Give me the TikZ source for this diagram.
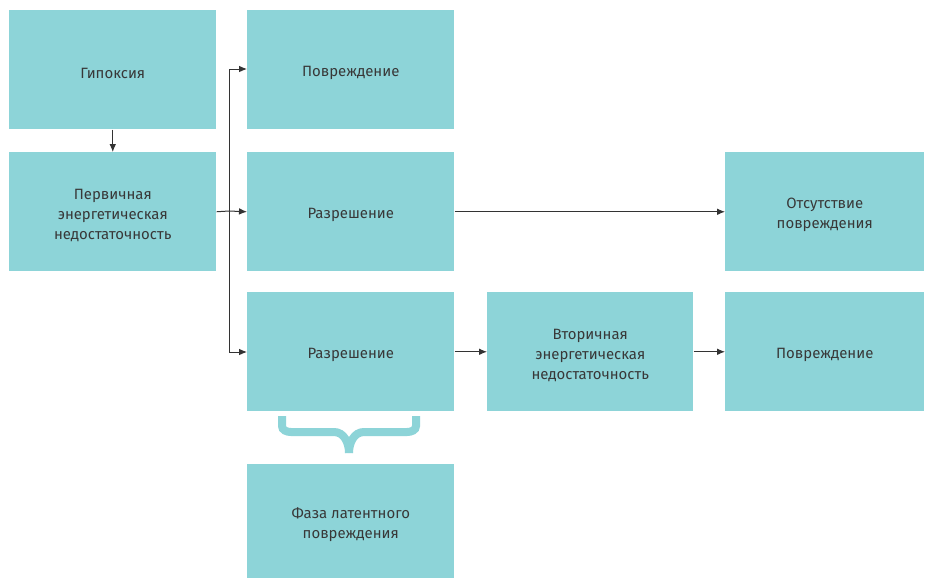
\documentclass[tikz,border=0pt]{standalone}
\usepackage{fontspec}
\setmainfont{Fira Sans}
\usetikzlibrary{arrows.meta}
\definecolor{boxc}{HTML}{8DD4D8}
\definecolor{txt}{HTML}{383838}
\definecolor{arr}{HTML}{333333}
\begin{document}
\begin{tikzpicture}[x=0.75pt,y=-0.75pt,
  box/.style={fill=boxc,draw=none,inner sep=0pt,anchor=north west},
  lbl/.style={align=center,text=txt,inner sep=0pt,font=\fontsize{11.2}{15}\selectfont},
  conn/.style={draw=arr,line width=0.75pt,-{Latex[length=6pt,width=5pt]}},
  plain/.style={draw=arr,line width=0.75pt},
  brace/.style={draw=boxc,line width=6pt}]
\useasboundingbox (0,0) rectangle (925,579);
\path[fill=white] (0,0) rectangle (925,579);
\newcommand{\bx}[6]{%
  \node[box,minimum width=#4*0.75pt,minimum height=#5*0.75pt] (#1) at (#2,#3) {};
  \node[lbl] (#1-t) at ([yshift=-2.5pt]#1.center) {#6};}
\bx{hyp}{9}{10}{207}{119}{Гипоксия}
\bx{prim}{9}{152}{207}{119}{Первичная\\энергетическая\\недостаточность}
\bx{dam1}{247}{10}{207}{119}{Повреждение}
\bx{res1}{247}{152}{207}{119}{Разрешение}
\bx{none}{725}{152}{199}{119}{Отсутствие\\повреждения}
\bx{res2}{247}{292}{207}{119}{Разрешение}
\bx{sec}{487}{292}{206}{119}{Вторичная\\энергетическая\\недостаточность}
\bx{dam2}{725}{292}{199}{119}{Повреждение}
\bx{lat}{247}{464}{207}{114}{Фаза латентного\\повреждения}
\coordinate (tr1) at (229,69);
\coordinate (tr2) at (229,352);
\coordinate (trm) at (229,211);
\draw[conn] (hyp.south) -- (prim.north);
\draw[plain] (prim.east) -- (trm);
\draw[conn] (trm) -- (res1.west);
\draw[plain] (tr1) -- (tr2);
\draw[conn] (tr1) -- (tr1 -| dam1.west);
\draw[conn] (tr2) -- (tr2 -| res2.west);
\draw[conn] (res1.east) -- (none.west);
\draw[conn] (res2.east) -- (sec.west);
\draw[conn] (sec.east) -- (dam2.west);
\draw[brace] (282,416) -- (282,426) to[out=-90,in=180] (291,432) -- (334,432) to[out=0,in=90] (349,453);
\draw[brace] (416,416) -- (416,426) to[out=-90,in=0] (407,432) -- (364,432) to[out=180,in=90] (349,453);
\end{tikzpicture}
\end{document}
